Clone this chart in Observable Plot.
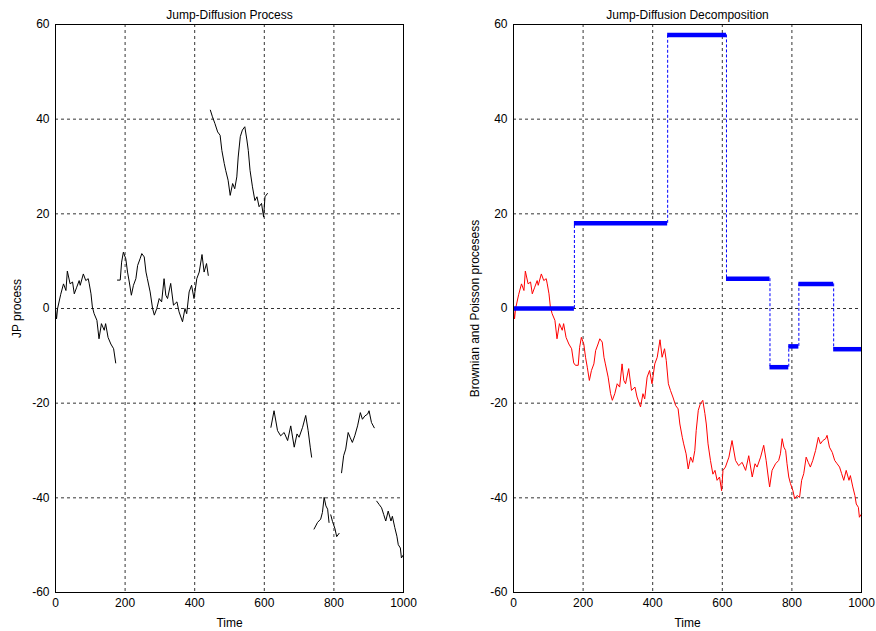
<!DOCTYPE html>
<html><head><meta charset="utf-8">
<script src="https://cdn.jsdelivr.net/npm/d3@7"></script>
<script src="https://cdn.jsdelivr.net/npm/@observablehq/plot@0.6"></script>
<style>
body{margin:0;background:#fff;}
#wrap{position:relative;width:876px;height:631px;overflow:hidden;}
#left,#right{position:absolute;top:0;}
#left{left:0}
#right{left:438px}
</style></head><body><div id="wrap"><div id="left"></div><div id="right"></div></div>
<script>
const times=[0,3,6,15,23,30,34,42,49,54,61,68,71,80,87,94,97,102,106,111,119,125,132,140,144,151,159,167,173,178,186,190,195,202,207,212,218,224,231,236,243,248,255,260,264,272,279,284,291,298,305,312,317,
322,331,339,349,355,365,372,377,384,391,398,406,413,421,427,434,439,445,451,458,466,473,478,485,489,496,502,509,515,521,525,531,537,544,550,554,559,566,573,579,585,592,598,602,609,619,628,
638,647,657,667,676,686,694,700,710,719,726,732,736,743,753,762,767,772,777,782,786,791,796,803,808,815,822,828,834,841,847,853,860,868,876,882,889,897,901,908,916,923,930,937,943,949,956,964,968,975,981,985,991,994,1000];
const brownian=[0,-2.2,0,3,5.2,3.8,7.9,5.2,5.6,3.1,4.5,5.9,4.9,7.3,5.9,6.3,5.2,3.1,0.3,-1.1,-2.5,-6.4,-3.2,-4.6,-3.2,-6.1,-7.5,-8.5,-11.5,-12,-12,-8.2,-6.1,-7.5,-10.3,-12.4,-15.2,-13.1,-11.7,-8.9,-7.5,-6.4,-7.1,-10.3,-11.7,-14.5,-18,-19.4,-18,-15.9,-16.6,-11.7,-15.2,
-15.9,-12.7,-17.3,-16.6,-18.7,-20.8,-18,-19.1,-14.5,-13.1,-15.9,-11.7,-10.3,-6.6,-10.3,-8.5,-11,-15.9,-17.3,-18.7,-20.5,-21.2,-24.4,-27.2,-28.6,-30.7,-33.9,-31.4,-32.5,-30,-25.8,-21.5,-20.1,-19.4,-22.2,-24.4,-28.6,-32.1,-35,-34.2,-36.3,-35.6,-38.5,-34.2,-33.5,-31.4,-27.9,
-32.1,-33.2,-32.5,-34.2,-31.1,-35.6,-32.8,-33.5,-31.4,-28.9,-32.1,-35.6,-37.7,-34.2,-32.8,-32.1,-30.7,-27.5,-29.3,-30,-32.8,-35.6,-37,-38.5,-40.2,-39.5,-39.9,-36.3,-34.9,-31.4,-32.5,-33.5,-32.1,-30,-27.2,-28.6,-27.9,-27.5,-26.8,-29.3,-30.4,-32.1,-32.8,-33.5,-34.9,-36.3,-34.2,-36.3,-35.3,-37.7,-39.5,-41.3,-42,-44.1,-43.4];
const jumpTimes=[175,443,612,737,791,820,920];
const levels=[0,18,57.8,6.3,-12.4,-8,5.2,-8.6];
const xTicks=[0,200,400,600,800,1000];
const yTicks=[-60,-40,-20,0,20,40,60];
const titles=["Jump-Diffusion Process","Jump-Diffusion Decomposition"];
const xLabel="Time";
const yLabels=["JP process","Brownian and Poisson procesess"];

function seg(t){let i=0; while(i<jumpTimes.length && t>=jumpTimes[i]) i++; return i;}
const rows=times.map((t,i)=>({t, b:brownian[i], s:seg(t), jp:brownian[i]+levels[seg(t)]}));
const bounds=[0,...jumpTimes,1000];
const steps=levels.map((v,i)=>({x1:bounds[i],x2:bounds[i+1],y:v}));
const risers=jumpTimes.map((t,i)=>({x:t,y1:levels[i],y2:levels[i+1]}));

function panel(title, ylabel, marks, ml, mr){
  return Plot.plot({
    width:438, height:631, marginLeft:ml, marginRight:mr, marginTop:24, marginBottom:39,
    style:{fontFamily:"'Liberation Sans', Arial, sans-serif", fontSize:"12px", color:"#000", background:"#fff", overflow:"visible"},
    x:{domain:[0,1000], ticks:xTicks, tickSize:0, tickPadding:6, tickFormat:d=>String(d), label:xLabel, labelAnchor:"center", labelOffset:34, labelArrow:"none"},
    y:{domain:[-60,60], ticks:yTicks, tickSize:0, tickPadding:6, tickFormat:d=>String(d), label:ylabel, labelAnchor:"center", labelOffset:43, labelArrow:"none"},
    marks:[
      Plot.gridX(xTicks,{stroke:"#000", strokeOpacity:0.8, strokeDasharray:"3,3"}),
      Plot.gridY(yTicks,{stroke:"#000", strokeOpacity:0.8, strokeDasharray:"3,3"}),
      ...marks,
      Plot.frame({stroke:"#000", strokeWidth:1}),
      Plot.text([title],{frameAnchor:"top", dy:-14, fontSize:12, fill:"#000"})
    ]
  });
}

document.getElementById("left").append(panel(titles[0], yLabels[0], [
  Plot.line(rows,{x:"t", y:"jp", z:"s", stroke:"#000", strokeWidth:1})
], 55, 35));

document.getElementById("right").append(panel(titles[1], yLabels[1], [
  Plot.line(rows,{x:"t", y:"b", stroke:"red", strokeWidth:1}),
  Plot.ruleX(risers,{x:"x", y1:"y1", y2:"y2", stroke:"blue", strokeWidth:1, strokeDasharray:"3,2"}),
  Plot.ruleY(steps,{y:"y", x1:"x1", x2:"x2", stroke:"blue", strokeWidth:4.5})
], 75, 15));
</script></body></html>
